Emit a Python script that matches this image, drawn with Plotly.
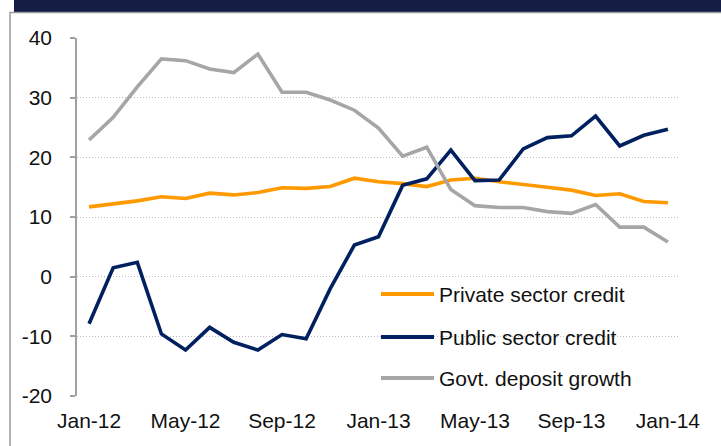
import plotly.graph_objects as go

# Monthly growth rates (% y/y), Jan-2012 .. Jan-2014
months = ["Jan-12", "Feb-12", "Mar-12", "Apr-12", "May-12", "Jun-12", "Jul-12", "Aug-12",
          "Sep-12", "Oct-12", "Nov-12", "Dec-12", "Jan-13", "Feb-13", "Mar-13", "Apr-13",
          "May-13", "Jun-13", "Jul-13", "Aug-13", "Sep-13", "Oct-13", "Nov-13", "Dec-13",
          "Jan-14"]

private_credit = [11.7, 12.2, 12.7, 13.4, 13.1, 14.0, 13.7, 14.1, 14.9, 14.8, 15.1, 16.5, 15.9,
                  15.6, 15.1, 16.2, 16.5, 15.9, 15.5, 15.0, 14.5, 13.6, 13.9, 12.6, 12.4]
public_credit = [-7.9, 1.5, 2.4, -9.6, -12.3, -8.5, -11.0, -12.3, -9.7, -10.4, -2.0, 5.3, 6.7,
                 15.3, 16.4, 21.2, 16.1, 16.2, 21.4, 23.3, 23.6, 26.9, 21.9, 23.7, 24.7]
govt_deposits = [22.9, 26.7, 31.8, 36.5, 36.2, 34.8, 34.2, 37.3, 30.9, 30.9, 29.6, 27.9, 24.9,
                 20.2, 21.7, 14.6, 11.9, 11.6, 11.6, 10.9, 10.6, 12.1, 8.3, 8.3, 5.8]

series_names = ["Private sector credit", "Public sector credit", "Govt. deposit growth"]
series_colors = ["#FF9900", "#002060", "#A6A6A6"]
series_values = [private_credit, public_credit, govt_deposits]

y_ticks = [-20, -10, 0, 10, 20, 30, 40]
y_tick_text = ["-20", "-10", "0", "10", "20", "30", "40"]
x_label_step = 4

W, H = 721, 446
ML, MR, MT, MB = 77, 41, 38, 50
PW, PH = W - ML - MR, H - MT - MB

FONT = "Liberation Sans, Arial, sans-serif"
AXIS_GREY = "#A0A0A0"


def px_x(px):
    return (px - ML) / PW


def px_y(py):
    return (H - MB - py) / PH


idx = list(range(len(months)))

fig = go.Figure()
for name, color, vals in zip(series_names, series_colors, series_values):
    fig.add_trace(go.Scatter(x=idx, y=vals, mode="lines", name=name,
                             line=dict(color=color, width=3.6), showlegend=False))

# category axis: labels every 4 months
fig.update_layout(
    xaxis=dict(range=[-0.5, len(months) - 0.5], tickvals=idx[::x_label_step],
               ticktext=months[::x_label_step], showgrid=False, zeroline=False,
               showline=False, ticks="", ticklabelstandoff=10,
               tickfont=dict(family=FONT, size=21, color="#111")),
    # horizontal axis line drawn at y = 0 with boundary ticks
    xaxis2=dict(range=[-0.5, len(months) - 0.5], overlaying="x", anchor="free",
                position=(0 - y_ticks[0]) / (y_ticks[-1] - y_ticks[0]),
                tickvals=[i - 0.5 for i in idx[x_label_step::x_label_step]],
                ticks="outside", ticklen=5, tickwidth=1.5, tickcolor=AXIS_GREY,
                showticklabels=False, showline=True, linecolor=AXIS_GREY, linewidth=1.5,
                showgrid=False, zeroline=False),
    yaxis=dict(range=[y_ticks[0], y_ticks[-1]], tickvals=y_ticks, ticktext=y_tick_text,
               showline=True, linecolor=AXIS_GREY, linewidth=1.5, ticks="outside",
               ticklen=5, tickwidth=1.5, tickcolor=AXIS_GREY, showgrid=True,
               gridcolor="#BEBEBE", griddash="1px,2px", gridwidth=1, zeroline=False,
               ticklabelstandoff=14, tickfont=dict(family=FONT, size=21, color="#111")),
    width=W, height=H,
    margin=dict(l=ML, r=MR, t=MT, b=MB, pad=0),
    paper_bgcolor="white", plot_bgcolor="white",
    showlegend=False,
)

shapes = []
# dark header band and grey frame
shapes.append(dict(type="rect", xref="paper", yref="paper", x0=px_x(14), x1=px_x(W + 5),
                   y0=px_y(12), y1=px_y(-5), fillcolor="#131C42", line=dict(width=0),
                   layer="above"))
shapes.append(dict(type="line", xref="paper", yref="paper", x0=px_x(10), x1=px_x(10),
                   y0=px_y(12), y1=px_y(H + 5), line=dict(color="#9A9A9A", width=1.5)))
shapes.append(dict(type="line", xref="paper", yref="paper", x0=px_x(10), x1=px_x(W + 5),
                   y0=px_y(12.5), y1=px_y(12.5), line=dict(color="#9A9A9A", width=1.5)))

# legend drawn in the lower-right of the plot
annotations = []
leg_rows = [294, 337, 378]
for name, color, row in zip(series_names, series_colors, leg_rows):
    shapes.append(dict(type="line", xref="paper", yref="paper", x0=px_x(381), x1=px_x(434),
                       y0=px_y(row), y1=px_y(row), line=dict(color=color, width=4)))
    annotations.append(dict(text=name, xref="paper", yref="paper", x=px_x(437), y=px_y(row),
                            xanchor="left", yanchor="middle", showarrow=False,
                            font=dict(family=FONT, size=21, color="#111")))

fig.update_layout(shapes=shapes, annotations=annotations)

fig.write_html("out.html", config={"displayModeBar": False})
